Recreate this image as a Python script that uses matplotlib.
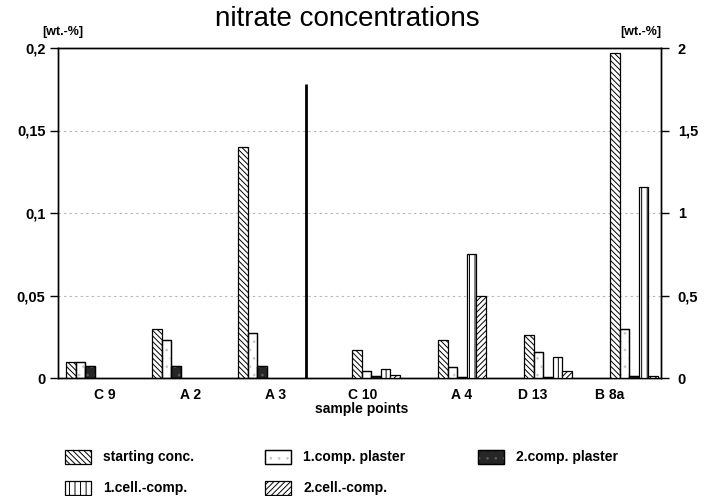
import matplotlib
matplotlib.use("Agg")
import matplotlib.pyplot as plt
from matplotlib.patches import Rectangle

# ---------------- data ----------------
samples = ["C 9", "A 2", "A 3", "C 10", "A 4", "D 13", "B 8a"]
scale = ["left", "left", "left", "right", "right", "right", "right"]  # left: 0-0.2, right: 0-2 wt.-%
series_names = ["starting conc.", "1.comp. plaster", "2.comp. plaster",
                "1.cell.-comp.", "2.cell.-comp."]
starting_conc = [0.010, 0.030, 0.140, 0.17, 0.23, 0.26, 1.97]
comp1_plaster = [0.010, 0.023, 0.027, 0.04, 0.066, 0.16, 0.30]
comp2_plaster = [0.007, 0.007, 0.007, 0.012, 0.006, 0.008, 0.01]
cell1_comp = [0.0, 0.0, 0.0, 0.056, 0.75, 0.13, 1.16]
cell2_comp = [0.0, 0.0, 0.0, 0.018, 0.50, 0.045, 0.012]
left_ticks = [0, 0.05, 0.1, 0.15, 0.2]
left_ticklabels = ["0", "0,05", "0,1", "0,15", "0,2"]
right_ticks = [0, 0.5, 1, 1.5, 2]
right_ticklabels = ["0", "0,5", "1", "1,5", "2"]

# ---------------- style ----------------
plt.rcParams['font.family'] = ['Liberation Sans', 'DejaVu Sans']
plt.rcParams['hatch.linewidth'] = 0.7

styles = [
    dict(facecolor="white", hatch="\\\\\\\\\\\\", dots=None),
    dict(facecolor="white", hatch=None, dots="#c8c8c8"),
    dict(facecolor="#262626", hatch=None, dots="#5a5a5a"),
    dict(facecolor="white", hatch="|||", dots=None),
    dict(facecolor="white", hatch="//////", dots=None),
]
series = [starting_conc, comp1_plaster, comp2_plaster, cell1_comp, cell2_comp]

W, H = 705, 496
fig = plt.figure(figsize=(W / 100, H / 100), dpi=100)
ax = fig.add_axes([58 / W, 1 - 378 / H, 603 / W, 330 / H])
ax2 = ax.twinx()

# layout (in pixel-like x units)
bar_w = 9.6
group_start = [8 + 86 * i + (28 if i >= 3 else 0) for i in range(len(samples))]
label_pos = [47, 132, 218, 305, 404, 475, 552]

ax.set_xlim(0, 603)
ax.set_ylim(0, 0.2)
ax2.set_ylim(0, 2)

for gi, g in enumerate(group_start):
    target = ax if scale[gi] == "left" else ax2
    for si, (vals, st) in enumerate(zip(series, styles)):
        v = vals[gi]
        if v <= 0:
            continue
        x0 = g + si * bar_w
        target.bar(x0, v, width=bar_w, align="edge",
                   facecolor=st["facecolor"], hatch=st["hatch"],
                   edgecolor="black", linewidth=0.9, zorder=3)
        if st["dots"]:
            target.bar(x0, v, width=bar_w, align="edge", facecolor="none",
                       hatch="..", edgecolor=st["dots"], linewidth=0, zorder=3.5)
            target.bar(x0, v, width=bar_w, align="edge", facecolor="none",
                       edgecolor="black", linewidth=0.9, zorder=3.6)

# separator between left- and right-scaled groups
sep_x = group_start[2] + 68
ax2.plot([sep_x, sep_x], [0, 1.78], color="black", lw=2, zorder=4,
         solid_capstyle="butt")

# grid
for t in left_ticks[1:-1]:
    ax.axhline(t, color="#b4b4b4", lw=0.8, ls=(0, (2, 3)), zorder=1)

# axes styling
for a in (ax, ax2):
    for s in a.spines.values():
        s.set_linewidth(1.0)
        s.set_color("black")

ax.set_yticks(left_ticks)
ax.set_yticklabels(left_ticklabels, fontsize=10.5, fontweight="bold")
ax2.set_yticks(right_ticks)
ax2.set_yticklabels(right_ticklabels, fontsize=10.5, fontweight="bold")
ax.tick_params(axis="y", direction="out", length=6, width=1, pad=3)
ax2.tick_params(axis="y", direction="out", length=6, width=1, pad=6)

ax.set_xticks(label_pos)
ax.set_xticklabels(samples, fontsize=10, fontweight="bold")
ax.tick_params(axis="x", length=0, pad=7)

fig.text(362 / W, 1 - 409 / H, "sample points", ha="center", va="center",
         fontsize=10, fontweight="bold")
fig.text(347 / W, 1 - 19 / H, "nitrate concentrations", ha="center", va="center",
         fontsize=20)
fig.text(63 / W, 1 - 32 / H, "[wt.-%]", ha="center", va="center",
         fontsize=9, fontweight="bold")
fig.text(641 / W, 1 - 32 / H, "[wt.-%]", ha="center", va="center",
         fontsize=9, fontweight="bold")

# legend (manual layout)
leg_xy = [(65, 457), (265, 457), (478, 457), (65, 488), (265, 488)]
for (px, py), name, st in zip(leg_xy, series_names, styles):
    rect_kw = dict(transform=fig.transFigure)
    r = Rectangle((px / W, 1 - (py + 7) / H), 26 / W, 14 / H,
                  facecolor=st["facecolor"], hatch=st["hatch"],
                  edgecolor="black", linewidth=0.9, **rect_kw)
    fig.patches.append(r)
    if st["dots"]:
        fig.patches.append(Rectangle((px / W, 1 - (py + 7) / H), 26 / W, 14 / H,
                                     facecolor="none", hatch="..",
                                     edgecolor=st["dots"], linewidth=0, **rect_kw))
        fig.patches.append(Rectangle((px / W, 1 - (py + 7) / H), 26 / W, 14 / H,
                                     facecolor="none", edgecolor="black",
                                     linewidth=0.9, **rect_kw))
    fig.text((px + 38) / W, 1 - py / H, name, ha="left", va="center",
             fontsize=10, fontweight="bold")

fig.savefig("out.png", dpi=100)
